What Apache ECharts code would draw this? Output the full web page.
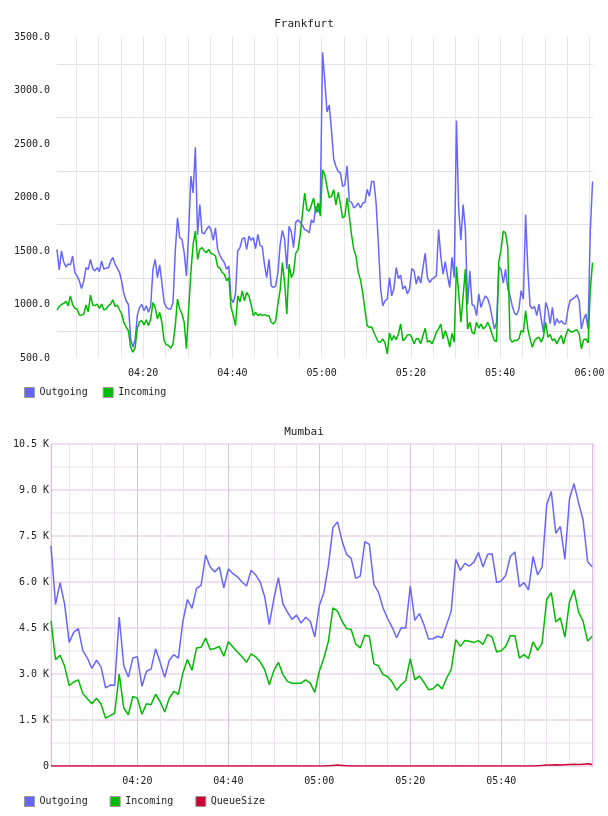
<!DOCTYPE html>
<html>
<head>
<meta charset="utf-8">
<script src="https://cdn.jsdelivr.net/npm/echarts@6/dist/echarts.min.js"></script>
<style>
html, body { margin: 0; padding: 0; background: #fff; }
#main { width: 608px; height: 816px; }
</style>
</head>
<body>
<div id="main"></div>
<script>
// Frankfurt: samples every 30 s starting 04:00:42 (minutes after 04:00)
var ffStart = 0.7, ffStep = 0.5;
var ffOutgoing = [
  1515, 1323, 1500, 1400, 1350, 1380, 1370, 1453, 1298, 1267,
  1221, 1150, 1221, 1345, 1329, 1422, 1336, 1314, 1345, 1307,
  1407, 1330, 1340, 1340, 1400, 1440, 1380, 1340, 1300, 1215,
  1100, 1035, 1000, 680, 601, 670, 900, 973, 1000, 942,
  988, 927, 988, 1329, 1422, 1252, 1370, 1205, 1019, 973,
  958, 958, 1019, 1500, 1809, 1624, 1608, 1484, 1267, 1670,
  2200, 2042, 2469, 1650, 1933, 1670, 1661, 1701, 1732, 1701,
  1600, 1717, 1515, 1460, 1420, 1391, 1329, 1360, 1050, 1019,
  1100, 1500, 1531, 1614, 1624, 1515, 1639, 1600, 1624, 1521,
  1655, 1552, 1540, 1370, 1252, 1422, 1174, 1159, 1174, 1298,
  1560, 1692, 1608, 1330, 1732, 1680, 1531, 1770, 1790, 1770,
  1740, 1700, 1692, 1670, 1790, 1763, 1918, 1862, 1949, 3358,
  3095,
  2800, 2863, 2630, 2360, 2290, 2243, 2230, 2104, 2119, 2296,
  1964, 1955, 1902, 1918, 1949, 1902, 1949, 1955, 2076, 2011,
  2150, 2150, 1949, 1577, 1150, 988, 1035, 1050, 1252, 1081,
  1150, 1345, 1243, 1274, 1143, 1174, 1100, 1143, 1336, 1314,
  1190, 1267, 1200, 1345, 1478, 1252, 1205, 1236, 1252, 1267,
  1701, 1450, 1283, 1400, 1267, 1159, 1440, 1252, 2720, 1900,
  1600, 1933, 1701, 1000, 1314, 1000, 988, 896, 1100, 973,
  1035, 1080, 1056, 988, 880, 772, 834, 1350, 1329, 1200,
  1329, 1150, 1081, 988, 920, 902, 958, 1130, 1050, 1840,
  1329, 988, 960, 982, 896, 1004, 865, 741, 1019, 958,
  820, 973, 803, 868, 828, 849, 823, 818, 958, 1040,
  1050, 1066, 1090, 1035, 772, 860, 911, 772, 1700, 2150
];
var ffIncoming = [
  948, 982, 1000, 1010, 1030, 988, 1081, 1000, 964, 958,
  902, 900, 911, 995, 933, 1087, 995, 990, 1004, 964,
  1004, 951, 958, 988, 1004, 1044, 982, 995, 951, 911,
  830, 787, 756, 600, 555, 595, 780, 840, 849, 809,
  858, 803, 865, 1019, 973, 865, 927, 834, 663, 623,
  617, 592, 632, 800, 1050, 958, 911, 834, 586, 958,
  1300, 1561, 1686, 1420, 1515, 1531, 1500, 1484, 1515, 1478,
  1470, 1453, 1354, 1340, 1300, 1283, 1221, 1252, 973, 896,
  803, 1081, 1025, 1128, 1035, 1112, 1081, 1000, 896, 927,
  896, 911, 896, 905, 896, 896, 834, 818, 849, 1004,
  1135, 1391, 1205, 911, 1376, 1250, 1298, 1480, 1510, 1650,
  1850, 2042, 1887, 1872, 1930, 1995, 1856, 1949, 1825, 2259,
  2212,
  2100, 2000, 2011, 2073, 1930, 2048, 1940, 1809, 1825, 1995,
  1825, 1650, 1515, 1453, 1300, 1230, 1112, 950, 803, 787,
  790, 741, 694, 650, 648, 679, 640, 539, 735, 663,
  710, 672, 725, 818, 663, 679, 716, 720, 694, 632,
  679, 679, 632, 710, 778, 648, 663, 632, 679, 741,
  772, 818, 679, 756, 694, 601, 730, 648, 1354, 1112,
  834, 1081, 1329, 772, 834, 740, 725, 834, 780, 818,
  772, 790, 834, 787, 720, 663, 654, 1400, 1515, 1686,
  1670, 1531, 679, 648, 665, 663, 679, 756, 741, 942,
  772, 679, 601, 663, 685, 694, 648, 700, 834, 694,
  720, 663, 679, 632, 679, 710, 630, 710, 772, 748,
  741, 756, 764, 725, 586, 670, 679, 640, 1143, 1391
];

// Mumbai: one sample per minute, 04:01 .. 06:00
var mbStart = 1, mbStep = 1;
var mbOutgoing = [
  7180, 5270, 5980, 5270, 4030, 4360, 4480, 3760, 3520, 3180,
  3450, 3230, 2550, 2640, 2630, 4860, 3270, 2900, 3520, 3560,
  2600, 3090, 3160, 3820, 3380, 2890, 3450, 3630, 3520, 4720,
  5430, 5140, 5790, 5890, 6880, 6490, 6330, 6490, 5810, 6430,
  6270, 6170, 6000, 5870, 6380, 6230, 6000, 5510, 4610, 5450,
  6140, 5290, 5020, 4780, 4920, 4660, 4850, 4720, 4210, 5230,
  5650, 6540, 7780, 7960, 7340, 6900, 6770, 6120, 6190, 7320,
  7230, 5920, 5670, 5160, 4810, 4530, 4180, 4510, 4500, 5870,
  4750, 4970, 4610, 4140, 4150, 4230, 4180, 4610, 5050, 6740,
  6380, 6610, 6520, 6650, 6960, 6490, 6900, 6920, 5980, 6030,
  6220, 6830, 6980, 5850, 5980, 5740, 6830, 6230, 6490, 8520,
  8950, 7590, 7810, 6740, 8700, 9210, 8590, 8020, 6660, 6500
];
var mbIncoming = [
  4740, 3470, 3610, 3250, 2620, 2740, 2810, 2360, 2190, 2030,
  2210, 2020, 1560, 1640, 1720, 3000, 1890, 1670, 2270, 2210,
  1690, 2030, 2000, 2340, 2100, 1760, 2210, 2430, 2340, 3030,
  3470, 3120, 3850, 3870, 4170, 3800, 3830, 3900, 3580, 4050,
  3880, 3720, 3560, 3380, 3660, 3560, 3390, 3140, 2650, 3110,
  3380, 2980, 2760, 2700, 2700, 2700, 2810, 2700, 2400, 3090,
  3520, 4070, 5160, 5050, 4720, 4480, 4450, 3980, 3850, 4260,
  4230, 3330, 3270, 2980, 2920, 2740, 2470, 2650, 2790, 3500,
  2810, 2940, 2730, 2490, 2520, 2670, 2510, 2870, 3140, 4120,
  3900, 4090, 4070, 4030, 4090, 3960, 4290, 4200, 3720, 3760,
  3900, 4250, 4250, 3520, 3630, 3500, 4050, 3770, 4010, 5430,
  5650, 4700, 4830, 4200, 5350, 5740, 5020, 4720, 4070, 4230
];
var mbQueue = [
  0, 0, 0, 0, 0, 0, 0, 0, 0, 0,
  0, 0, 0, 0, 0, 0, 0, 0, 0, 0,
  0, 0, 0, 0, 0, 0, 0, 0, 0, 0,
  0, 0, 0, 0, 0, 0, 0, 0, 0, 0,
  0, 0, 0, 0, 0, 0, 0, 0, 0, 0,
  0, 0, 0, 0, 0, 0, 0, 0, 0, 0,
  0, 10, 20, 30, 20, 10, 0, 0, 0, 0,
  0, 0, 0, 0, 0, 0, 0, 0, 0, 0,
  0, 0, 0, 0, 0, 0, 0, 0, 0, 0,
  0, 0, 0, 0, 0, 0, 0, 0, 0, 0,
  0, 0, 0, 0, 0, 0, 0, 10, 20, 30,
  30, 40, 30, 40, 50, 60, 50, 60, 70, 50
];

// axis ticks, in minutes after 04:00
var tickMinutes = [5, 10, 15, 20, 25, 30, 35, 40, 45, 50, 55, 60,
  65, 70, 75, 80, 85, 90, 95, 100, 105, 110, 115, 120];
var ffLabelMinutes = [20, 40, 60, 80, 100, 120];
var mbLabelMinutes = [20, 40, 60, 80, 100];

var mono = 'DejaVu Sans Mono';

function pad(n) { return (n < 10 ? '0' : '') + n; }
function hhmm(v) {
    var t = Math.round(v);
    return pad(4 + Math.floor(t / 60)) + ':' + pad(t % 60);
}
function pairs(start, step, vals) {
    var out = [];
    for (var i = 0; i < vals.length; i++) {
        out.push([start + i * step, vals[i]]);
    }
    return out;
}

var myChart = echarts.init(document.getElementById('main'));

var option = {
    animation: false,
    backgroundColor: '#fff',
    title: [
        { text: 'Frankfurt', left: 'center', top: 14,
          textStyle: { fontFamily: mono, fontSize: 11, fontWeight: 'normal', color: '#222' } },
        { text: 'Mumbai', left: 'center', top: 422,
          textStyle: { fontFamily: mono, fontSize: 11, fontWeight: 'normal', color: '#222' } }
    ],
    legend: [
        { data: ['Outgoing', 'Incoming'], left: 24, top: 387, padding: 0,
          itemWidth: 10, itemHeight: 10, itemGap: 15, icon: 'rect',
          itemStyle: { borderColor: '#999', borderWidth: 1 },
          textStyle: { fontFamily: mono, fontSize: 10, color: '#222' } },
        { data: ['Outgoing', 'Incoming', 'QueueSize'], left: 24, top: 796, padding: 0,
          itemWidth: 10, itemHeight: 10, itemGap: 22, icon: 'rect',
          itemStyle: { borderColor: '#999', borderWidth: 1 },
          textStyle: { fontFamily: mono, fontSize: 10, color: '#222' } }
    ],
    grid: [
        { left: 57, right: 15, top: 37, height: 321 },
        { left: 51, right: 14, top: 444, height: 322, show: true,
          borderColor: '#ead6ec', borderWidth: 1 }
    ],
    xAxis: [
        { type: 'value', gridIndex: 0, min: ffStart, max: 120.8,
          axisLine: { show: false },
          axisTick: { show: false, customValues: tickMinutes },
          axisLabel: { customValues: ffLabelMinutes, formatter: hhmm, margin: 10,
                       fontFamily: mono, fontSize: 10, color: '#222' },
          splitLine: { show: true, lineStyle: { color: '#e6e6e6', width: 1 } } },
        { type: 'value', gridIndex: 1, min: mbStart, max: 120.4,
          axisLine: { show: false },
          axisTick: { show: false, customValues: tickMinutes },
          axisLabel: { customValues: mbLabelMinutes, formatter: hhmm, margin: 10,
                       fontFamily: mono, fontSize: 10, color: '#222' },
          splitLine: { show: true, lineStyle: {
              color: ['#ebe2eb', '#ebe2eb', '#ebe2eb', '#d9c3dc'], width: 1 } } }
    ],
    yAxis: [
        { type: 'value', gridIndex: 0, min: 500, max: 3500, interval: 250,
          axisLine: { show: false }, axisTick: { show: false },
          axisLabel: { margin: 7, fontFamily: mono, fontSize: 10, color: '#222',
              formatter: function (v) { return v % 500 === 0 ? v.toFixed(1) : ''; } },
          splitLine: { show: true, lineStyle: { color: ['rgba(0,0,0,0)', '#e0e0e0'], width: 1 } } },
        { type: 'value', gridIndex: 1, min: 0, max: 10500, interval: 750,
          axisLine: { show: true, lineStyle: { color: '#d9c3dc', width: 1 } },
          axisTick: { show: false },
          axisLabel: { margin: 2, fontFamily: mono, fontSize: 10, color: '#222',
              formatter: function (v) {
                  if (v % 1500 !== 0) return '';
                  return v === 0 ? '0' : (v / 1000).toFixed(1) + ' K';
              } },
          splitLine: { show: true, lineStyle: { color: ['#f0dff0', '#f1f1f1'], width: 2 } } }
    ],
    series: [
        { name: 'Outgoing', type: 'line', xAxisIndex: 0, yAxisIndex: 0,
          data: pairs(ffStart, ffStep, ffOutgoing), showSymbol: false,
          lineStyle: { color: '#6666ff', width: 1.5 }, itemStyle: { color: '#6666ff' } },
        { name: 'Incoming', type: 'line', xAxisIndex: 0, yAxisIndex: 0,
          data: pairs(ffStart, ffStep, ffIncoming), showSymbol: false,
          lineStyle: { color: '#00bb00', width: 1.5 }, itemStyle: { color: '#00bb00' } },
        { name: 'Outgoing', type: 'line', xAxisIndex: 1, yAxisIndex: 1,
          data: pairs(mbStart, mbStep, mbOutgoing), showSymbol: false,
          lineStyle: { color: '#6666ff', width: 1.5 }, itemStyle: { color: '#6666ff' } },
        { name: 'Incoming', type: 'line', xAxisIndex: 1, yAxisIndex: 1,
          data: pairs(mbStart, mbStep, mbIncoming), showSymbol: false,
          lineStyle: { color: '#00bb00', width: 1.5 }, itemStyle: { color: '#00bb00' } },
        { name: 'QueueSize', type: 'line', xAxisIndex: 1, yAxisIndex: 1,
          data: pairs(mbStart, mbStep, mbQueue), showSymbol: false,
          lineStyle: { color: '#cc0033', width: 1.5 }, itemStyle: { color: '#cc0033' } }
    ]
};

myChart.setOption(option);
</script>
</body>
</html>
